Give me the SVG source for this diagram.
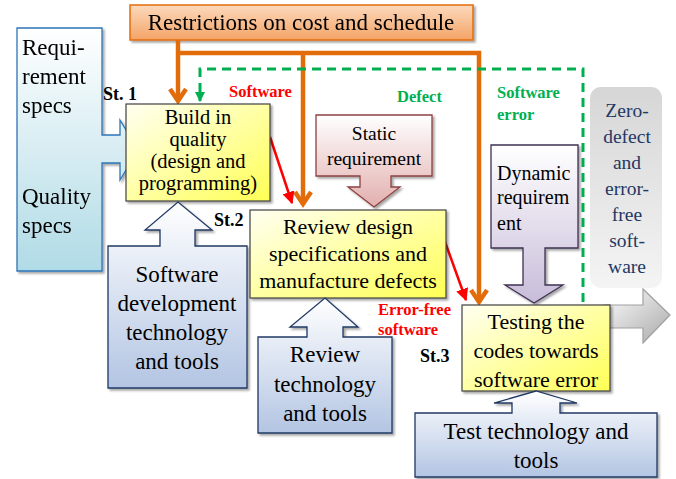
<svg xmlns="http://www.w3.org/2000/svg" width="676" height="479" viewBox="0 0 676 479" font-family="'Liberation Serif', Tinos, 'DejaVu Serif', 'Noto Serif', serif">
<defs>
<linearGradient id="gOrange" x1="0" y1="0" x2="0" y2="1"><stop offset="0" stop-color="#FCD9BD"/><stop offset="1" stop-color="#F4A466"/></linearGradient>
<linearGradient id="gYellow" x1="0" y1="0" x2="1" y2="1"><stop offset="0" stop-color="#FFFFF2"/><stop offset="1" stop-color="#FFFF55"/></linearGradient>
<linearGradient id="gCyan" x1="0" y1="0" x2="0" y2="1"><stop offset="0" stop-color="#FFFFFF"/><stop offset="1" stop-color="#B0DBE6"/></linearGradient>
<linearGradient id="gTool" x1="0" y1="0" x2="0" y2="1"><stop offset="0" stop-color="#FFFFFF"/><stop offset="1" stop-color="#B3C5E3"/></linearGradient>
<linearGradient id="gPink" x1="0" y1="0" x2="0" y2="1"><stop offset="0" stop-color="#FFFFFF"/><stop offset="1" stop-color="#E2AFAE"/></linearGradient>
<linearGradient id="gLav" x1="0" y1="0" x2="0" y2="1"><stop offset="0" stop-color="#FFFFFF"/><stop offset="1" stop-color="#C8BCD9"/></linearGradient>
<linearGradient id="gZero" x1="0" y1="0" x2="0" y2="1"><stop offset="0" stop-color="#D6D6D6"/><stop offset="1" stop-color="#F4F4F4"/></linearGradient>
<linearGradient id="gGray" x1="0" y1="0" x2="1" y2="1"><stop offset="0" stop-color="#FFFFFF"/><stop offset="1" stop-color="#A8A8A8"/></linearGradient>
<filter id="sh" x="-10%" y="-10%" width="120%" height="120%"><feDropShadow dx="2" dy="2" stdDeviation="1.2" flood-color="#000" flood-opacity="0.35"/></filter>
<marker id="mRed" viewBox="0 0 10 10" refX="9" refY="5" markerWidth="5" markerHeight="5" orient="auto" markerUnits="strokeWidth"><path d="M0,0 L10,5 L0,10 Z" fill="#FF0000"/></marker>
<marker id="mGreen" viewBox="0 0 10 10" refX="9" refY="5" markerWidth="3.5" markerHeight="3.5" orient="auto" markerUnits="strokeWidth"><path d="M0,0 L10,5 L0,10 Z" fill="#00B050"/></marker>
<style>
text{fill:#000}
.t20{font-size:20.5px}
.t22{font-size:22px}
.t23{font-size:23px}
.mid{text-anchor:middle}
.st{font-size:18px;font-weight:bold}
.lblR{font-size:16.5px;font-weight:bold;fill:#FF0000}
.lblG{font-size:16.5px;font-weight:bold;fill:#00B050}
.navy{fill:#1F3864;font-size:19.5px;text-anchor:middle}
.orange{fill:none;stroke:#E36C0A;stroke-width:4.5;stroke-linejoin:miter}
.red{fill:none;stroke:#FF0000;stroke-width:2.5}
.green{fill:none;stroke:#00B050;stroke-width:3;stroke-dasharray:9 6}
.yellow{fill:url(#gYellow);stroke:#404040;stroke-width:1.2}
.tool{fill:url(#gTool);stroke:#1F3864;stroke-width:1.3}
</style>
</defs>

<g id="restrictions" filter="url(#sh)">
<rect x="130" y="5" width="343" height="35" fill="url(#gOrange)" stroke="#E36C0A" stroke-width="1.5"/>
<text class="t23 mid" x="301" y="30">Restrictions on cost and schedule</text>
</g>

<g id="connectors">
<path class="orange" d="M178,40 V100"/>
<path class="orange" d="M170,89 L178,101 L186,89"/>
<path class="orange" d="M178,53 H479 V301"/>
<path class="orange" d="M471,290 L479,302 L487,290"/>
<path class="orange" d="M303,53 V203"/>
<path class="orange" d="M295,192 L303,204 L311,192"/>
<path class="green" d="M583,302 V69 H200 V101" marker-end="url(#mGreen)"/>
<path class="red" d="M270,137 L292,203" marker-end="url(#mRed)"/>
<path class="red" d="M444,239 L466,300" marker-end="url(#mRed)"/>
</g>

<g id="req-specs" filter="url(#sh)">
<path d="M17,28 H102 V135 H120 V120 L138,150 L120,180 V163 H102 V271 H17 Z" fill="url(#gCyan)" stroke="#2E75B6" stroke-width="1.3"/>
<text class="t23" x="22" y="55">Requi-</text>
<text class="t23" x="22" y="84">rement</text>
<text class="t23" x="22" y="113">specs</text>
<text class="t23" x="22" y="204">Quality</text>
<text class="t23" x="22" y="233">specs</text>
</g>

<g id="build">
<rect class="yellow" x="126" y="104" width="144" height="97" filter="url(#sh)"/>
<text class="t20 mid" x="198" y="124">Build in</text>
<text class="t20 mid" x="198" y="146">quality</text>
<text class="t20 mid" x="198" y="168">(design and</text>
<text class="t20 mid" x="198" y="190">programming)</text>
</g>

<g id="sw-dev-tools">
<path class="tool" d="M108,246 H160 V230 H145 L178,202 L212,230 H195 V246 H247 V388 H108 Z" filter="url(#sh)"/>
<text class="t23 mid" x="177" y="282">Software</text>
<text class="t23 mid" x="177" y="311">development</text>
<text class="t23 mid" x="177" y="340">technology</text>
<text class="t23 mid" x="177" y="369">and tools</text>
</g>

<g id="static-req">
<path d="M316,115 H432 V176 H391 V187 H400 L374,207 L348,187 H360 V176 H316 Z" fill="url(#gPink)" stroke="#8C4040" stroke-width="1.3" filter="url(#sh)"/>
<text class="mid" style="font-size:19.5px" x="374" y="140">Static</text>
<text class="mid" style="font-size:19.5px" x="374" y="165">requirement</text>
</g>

<g id="review">
<rect class="yellow" x="250" y="210" width="196" height="88" filter="url(#sh)"/>
<text class="t22 mid" x="348" y="234">Review design</text>
<text class="t22 mid" x="348" y="261">specifications and</text>
<text class="t22 mid" x="348" y="288">manufacture defects</text>
</g>

<g id="review-tools">
<path class="tool" d="M258,337 H307 V327 H290 L325,298 L358,327 H343 V337 H392 V433 H258 Z" filter="url(#sh)"/>
<text class="t23 mid" x="325" y="362">Review</text>
<text class="t23 mid" x="325" y="392">technology</text>
<text class="t23 mid" x="325" y="421">and tools</text>
</g>

<g id="dynamic-req">
<path d="M491,145 H578 V248 H545 V285 H563 L534,303 L505,285 H523 V248 H491 Z" fill="url(#gLav)" stroke="#3F3151" stroke-width="1.3" filter="url(#sh)"/>
<text style="font-size:20px" x="497" y="180">Dynamic</text>
<text style="font-size:20px" x="497" y="204">requirem</text>
<text style="font-size:20px" x="497" y="230">ent</text>
</g>

<g id="zero-defect">
<rect x="590" y="87" width="72" height="201" rx="11" fill="url(#gZero)"/>
<text class="navy" x="627" y="117">Zero-</text>
<text class="navy" x="627" y="143">defect</text>
<text class="navy" x="627" y="169">and</text>
<text class="navy" x="627" y="195">error-</text>
<text class="navy" x="627" y="221">free</text>
<text class="navy" x="627" y="247">soft-</text>
<text class="navy" x="627" y="273">ware</text>
</g>

<g id="output-arrow">
<path d="M604,305 H643 V289 L670,315 L643,343 V328 H604 Z" fill="url(#gGray)" stroke="#A0A0A0" stroke-width="1.2"/>
</g>

<g id="testing">
<rect class="yellow" x="462" y="305" width="148" height="86" filter="url(#sh)"/>
<text class="t22 mid" x="536" y="329">Testing the</text>
<text class="t22 mid" x="536" y="358">codes towards</text>
<text class="t22 mid" x="536" y="387">software error</text>
</g>

<g id="test-tools">
<path class="tool" d="M415,413 H512 V403 H494 L536,391 L577,403 H560 V413 H657 V477 H415 Z" filter="url(#sh)"/>
<text class="t23 mid" x="536" y="439">Test technology  and</text>
<text class="t23 mid" x="536" y="468">tools</text>
</g>

<g id="labels">
<text class="st" x="103" y="100">St. 1</text>
<text class="st" x="214" y="226">St.2</text>
<text class="st" x="420" y="362">St.3</text>
<text class="lblR" x="229" y="97">Software</text>
<text class="lblG" x="397" y="102">Defect</text>
<text class="lblG" x="497" y="98">Software</text>
<text class="lblG" x="497" y="120">error</text>
<text class="lblR" x="378" y="315">Error-free</text>
<text class="lblR" x="378" y="335">software</text>
</g>
</svg>
